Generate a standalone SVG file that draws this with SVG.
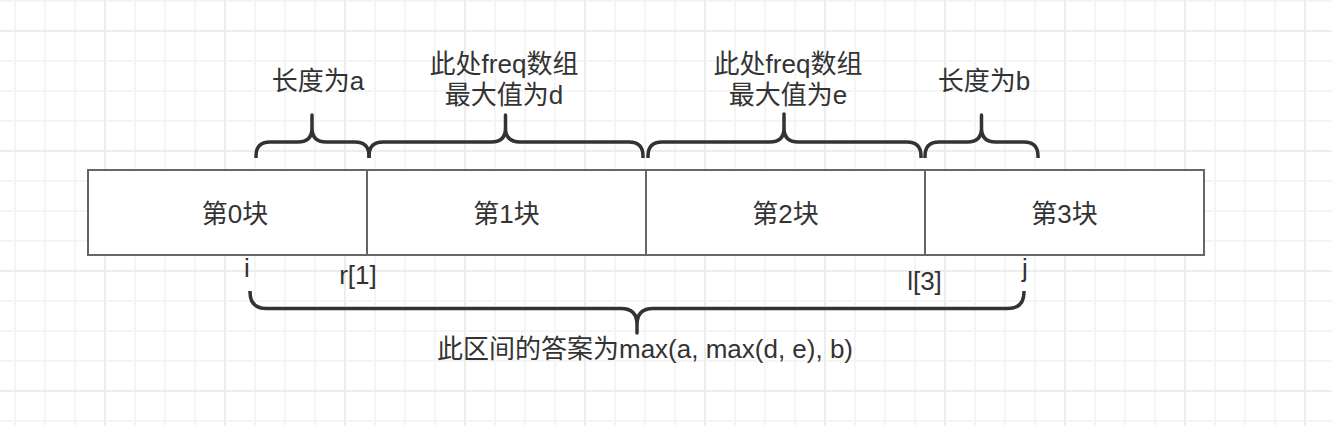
<svg xmlns="http://www.w3.org/2000/svg" width="1332" height="426" viewBox="0 0 1332 426">
<style>
.t{font-family:"Liberation Sans","Noto Sans CJK SC",sans-serif;font-size:26px;fill:#333333;text-anchor:middle}
.cell{fill:#ffffff;stroke:#666666;stroke-width:2}
.brace{fill:none;stroke:#333333;stroke-width:3.5;stroke-linejoin:round;stroke-linecap:butt}
</style>
<defs>
<pattern id="minor" width="30" height="30" patternUnits="userSpaceOnUse">
<rect x="14" y="0" width="2" height="30" fill="#f5f5f5"/>
<rect x="0" y="0" width="30" height="2" fill="#f5f5f5"/>
</pattern>
<pattern id="major" width="120" height="120" patternUnits="userSpaceOnUse">
<rect x="104" y="0" width="2" height="120" fill="#ededed"/>
<rect x="0" y="30" width="120" height="2" fill="#ededed"/>
</pattern>
</defs>
<rect width="1332" height="426" fill="#ffffff"/>
<rect width="1332" height="426" fill="url(#minor)"/>
<rect width="1332" height="426" fill="url(#major)"/>

<g id="block0"><rect class="cell" x="88" y="170" width="279" height="85"/><text class="t" x="235" y="223">第0块</text></g>
<g id="block1"><rect class="cell" x="367" y="170" width="279" height="85"/><text class="t" x="506.5" y="223">第1块</text></g>
<g id="block2"><rect class="cell" x="646" y="170" width="279" height="85"/><text class="t" x="785.5" y="223">第2块</text></g>
<g id="block3"><rect class="cell" x="925" y="170" width="279" height="85"/><text class="t" x="1064.5" y="223">第3块</text></g>

<g id="connectors">
<path class="brace" d="M256,158 V156 Q256,142 270,142 H298 Q312,142 312,128 V115 V128 Q312,142 326,142 H355 Q369,142 369,156 V158"/>
<path class="brace" d="M369,158 V156 Q369,142 383,142 H491.5 Q505.5,142 505.5,128 V115 V128 Q505.5,142 519.5,142 H629 Q643,142 643,156 V158"/>
<path class="brace" d="M648,158 V156 Q648,142 662,142 H770 Q784,142 784,128 V114 V128 Q784,142 798,142 H907 Q921,142 921,156 V158"/>
<path class="brace" d="M925,158 V156 Q925,142 939,142 H967.5 Q981.5,142 981.5,128 V115 V128 Q981.5,142 995.5,142 H1024 Q1038,142 1038,156 V158"/>
<path class="brace" d="M250,291 V292 Q250,308.5 266.5,308.5 H621 Q637,308.5 637,324.5 V333 V324.5 Q637,308.5 653,308.5 H1007.5 Q1024,308.5 1024,292 V291"/>
</g>

<g id="label-a"><text class="t" x="318" y="90">长度为a</text></g>
<g id="label-d"><text class="t" x="504" y="73">此处freq数组</text><text class="t" x="504" y="104">最大值为d</text></g>
<g id="label-e"><text class="t" x="788" y="73">此处freq数组</text><text class="t" x="788" y="104">最大值为e</text></g>
<g id="label-b"><text class="t" x="984" y="90">长度为b</text></g>
<g id="label-i"><text class="t" x="247" y="277">i</text></g>
<g id="label-r1"><text class="t" x="358" y="284">r[1]</text></g>
<g id="label-l3"><text class="t" x="924.5" y="290">l[3]</text></g>
<g id="label-j"><text class="t" x="1025" y="277">j</text></g>
<g id="label-answer"><text class="t" x="645" y="358">此区间的答案为max(a, max(d, e), b)</text></g>
</svg>
